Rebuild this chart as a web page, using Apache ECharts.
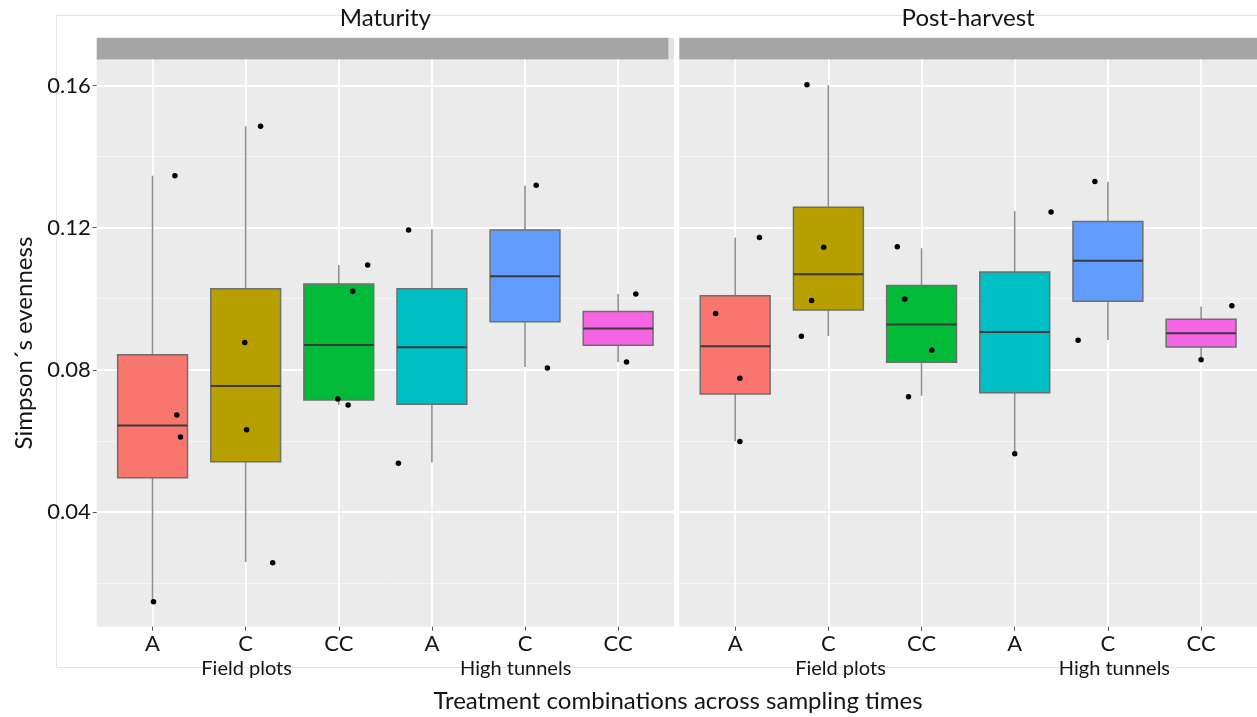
<!DOCTYPE html>
<html>
<head>
<meta charset="utf-8">
<script src="https://cdn.jsdelivr.net/npm/echarts@6/dist/echarts.min.js"></script>
<style>
  html, body { margin: 0; padding: 0; background: #ffffff; }
  #chart { width: 1257px; height: 717px; }
</style>
</head>
<body>
<div id="chart"></div>
<script>
// ---- data ----
const facets = ['Maturity', 'Post-harvest'];
const treatments = ['A', 'C', 'CC', 'A', 'C', 'CC'];
const sites = ['Field plots', 'High tunnels'];
const fillColors = ['#F8766D', '#B79F00', '#00BA38', '#00BFC4', '#619CFF', '#F564E3'];
const yMajorTicks = [0.04, 0.08, 0.12, 0.16];
const yMinorTicks = [0.02, 0.06, 0.10, 0.14];

// [lower whisker, Q1, median, Q3, upper whisker] for each treatment
const maturityStats = [
  [0.0148, 0.0496, 0.0643, 0.0842, 0.1346],
  [0.0259, 0.0541, 0.0754, 0.1028, 0.1485],
  [0.0701, 0.0715, 0.0870, 0.1041, 0.1095],
  [0.0539, 0.0703, 0.0863, 0.1028, 0.1195],
  [0.0808, 0.0935, 0.1063, 0.1193, 0.1318],
  [0.0822, 0.0869, 0.0916, 0.0964, 0.1013]
];
const postHarvestStats = [
  [0.0599, 0.0732, 0.0866, 0.1008, 0.1172],
  [0.0895, 0.0968, 0.1069, 0.1257, 0.1601],
  [0.0727, 0.0821, 0.0927, 0.1037, 0.1142],
  [0.0564, 0.0735, 0.0906, 0.1075, 0.1247],
  [0.0884, 0.0993, 0.1107, 0.1217, 0.1329],
  [0.0828, 0.0864, 0.0903, 0.0942, 0.0978]
];

// individual observations: [treatment index, jitter, evenness]
const maturityPoints = [
  [0, 0.24, 0.1346], [0, 0.26, 0.0673], [0, 0.30, 0.0611], [0, 0.01, 0.0147],
  [1, 0.16, 0.1485], [1, -0.01, 0.0877], [1, 0.01, 0.0631], [1, 0.29, 0.0257],
  [2, 0.31, 0.1095], [2, 0.15, 0.1021], [2, -0.01, 0.0718], [2, 0.10, 0.0701],
  [3, -0.25, 0.1193], [3, -0.36, 0.0537],
  [4, 0.12, 0.1319], [4, 0.24, 0.0805],
  [5, 0.19, 0.1013], [5, 0.09, 0.0822]
];
const postHarvestPoints = [
  [0, 0.26, 0.1172], [0, -0.21, 0.0958], [0, 0.05, 0.0776], [0, 0.05, 0.0598],
  [1, -0.23, 0.1602], [1, -0.05, 0.1145], [1, -0.18, 0.0995], [1, -0.29, 0.0894],
  [2, -0.26, 0.1146], [2, -0.18, 0.0999], [2, 0.11, 0.0855], [2, -0.14, 0.0724],
  [3, 0.39, 0.1244], [3, 0.00, 0.0564],
  [4, -0.14, 0.1330], [4, -0.32, 0.0883],
  [5, 0.33, 0.0980], [5, 0.00, 0.0828]
];

// ---- layout / style ----
const FONT = 'Lato';
const TEXT = '#141414';
const panelTop = 59.5;
const panelHeight = 567.2;
const panels = [
  { left: 96.7, width: 577.3 },
  { left: 679.3, width: 577.7 }
];
const yMin = 0.0077, yMax = 0.1673;
const catIdx = treatments.map((_, i) => i);

function renderBox(params, api) {
  const x = api.value(0);
  const lo = api.coord([x, api.value(1)]);
  const q1 = api.coord([x, api.value(2)]);
  const med = api.coord([x, api.value(3)]);
  const q3 = api.coord([x, api.value(4)]);
  const hi = api.coord([x, api.value(5)]);
  const half = api.size([0.75, 0])[0] / 2;
  const cx = lo[0];
  const whisker = { stroke: '#8f8f8f', lineWidth: 1.6 };
  return {
    type: 'group',
    children: [
      { type: 'line', shape: { x1: cx, y1: hi[1], x2: cx, y2: q3[1] }, style: whisker },
      { type: 'line', shape: { x1: cx, y1: q1[1], x2: cx, y2: lo[1] }, style: whisker },
      { type: 'rect', shape: { x: cx - half, y: q3[1], width: 2 * half, height: q1[1] - q3[1] },
        style: { fill: fillColors[x], stroke: '#6f6f6f', lineWidth: 1.5 } },
      { type: 'line', shape: { x1: cx - half, y1: med[1], x2: cx + half, y2: med[1] },
        style: { stroke: '#3a3a3a', lineWidth: 2 } }
    ]
  };
}

const grids = panels.map(p => ({
  left: p.left, top: panelTop, width: p.width, height: panelHeight,
  show: true, backgroundColor: '#ebebeb', borderWidth: 0
}));

const xAxes = [];
const yAxes = [];
panels.forEach((p, g) => {
  // treatment axis
  xAxes.push({
    type: 'value', gridIndex: g, position: 'bottom', min: -0.6, max: 5.6,
    axisLine: { show: false, onZero: false },
    axisTick: { show: true, length: 4, customValues: catIdx, lineStyle: { color: '#555', width: 1 } },
    axisLabel: { customValues: catIdx, formatter: v => treatments[Math.round(v)],
      margin: 6, fontFamily: FONT, fontSize: 22, color: TEXT },
    splitLine: { show: true, lineStyle: { color: '#ffffff', width: 1.8 } }
  });
  // growing-site group axis
  xAxes.push({
    type: 'value', gridIndex: g, position: 'bottom', min: -0.6, max: 5.6,
    axisLine: { show: false, onZero: false }, splitLine: { show: false },
    axisTick: { show: false, customValues: g === 0 ? [1.01, 3.9] : [1.13, 4.07] },
    axisLabel: { customValues: g === 0 ? [1.01, 3.9] : [1.13, 4.07],
      formatter: v => (v < 2.5 ? sites[0] : sites[1]),
      margin: 32, fontFamily: FONT, fontSize: 20, color: TEXT }
  });
  // major y
  yAxes.push({
    type: 'value', gridIndex: g, min: yMin, max: yMax,
    axisLine: { show: false, onZero: false },
    axisTick: { show: g === 0, length: 4, customValues: yMajorTicks, lineStyle: { color: '#555' } },
    axisLabel: { show: g === 0, customValues: yMajorTicks, formatter: v => v.toFixed(2),
      margin: 6, fontFamily: FONT, fontSize: 22, color: TEXT },
    splitLine: { show: true, lineStyle: { color: '#ffffff', width: 1.8 } },
    name: g === 0 ? 'Simpson\u00b4s evenness' : '',
    nameLocation: 'middle', nameGap: 60,
    nameTextStyle: { fontFamily: FONT, fontSize: 24, color: TEXT }
  });
  // minor y grid
  yAxes.push({
    type: 'value', gridIndex: g, min: yMin, max: yMax,
    axisLine: { show: false, onZero: false },
    axisTick: { show: false, customValues: yMinorTicks },
    axisLabel: { show: false, customValues: yMinorTicks },
    splitLine: { show: true, lineStyle: { color: '#f6f6f6', width: 1 } }
  });
});

const series = [];
[maturityStats, postHarvestStats].forEach((stats, g) => {
  series.push({
    type: 'custom', xAxisIndex: 2 * g, yAxisIndex: 2 * g, z: 2,
    renderItem: renderBox,
    encode: { x: 0, y: [1, 2, 3, 4, 5] },
    data: stats.map((s, i) => [i].concat(s)),
    silent: true
  });
});
[maturityPoints, postHarvestPoints].forEach((pts, g) => {
  series.push({
    type: 'scatter', xAxisIndex: 2 * g, yAxisIndex: 2 * g, z: 5,
    symbol: 'circle', symbolSize: 5.5,
    itemStyle: { color: '#000000', opacity: 1 },
    data: pts.map(p => [p[0] + p[1], p[2]]),
    silent: true
  });
});

const stripTop = 37.7, stripH = 21.8;
const graphic = [
  // faint outer frame
  { type: 'rect', left: 54, top: 13, shape: { width: 1210, height: 652 },
    style: { fill: 'none', stroke: '#e4e4e4', lineWidth: 1 }, z: -10 },
  // facet strips
  { type: 'rect', shape: { x: 96.7, y: stripTop, width: 572, height: stripH }, style: { fill: '#a6a6a6' } },
  { type: 'rect', shape: { x: 668.7, y: stripTop, width: 5.3, height: stripH }, style: { fill: '#e3e3e3' } },
  { type: 'rect', shape: { x: 679.3, y: stripTop, width: 577.7, height: stripH }, style: { fill: '#a6a6a6' } },
  { type: 'text', x: 96.7 + 577.3 / 2, y: 18,
    style: { text: facets[0], font: '24px ' + FONT, fill: TEXT, textAlign: 'center', textVerticalAlign: 'middle' } },
  { type: 'text', x: 679.3 + 577.7 / 2, y: 18,
    style: { text: facets[1], font: '24px ' + FONT, fill: TEXT, textAlign: 'center', textVerticalAlign: 'middle' } },
  // x axis title
  { type: 'text', x: 678, y: 701,
    style: { text: 'Treatment combinations across sampling times', font: '24px ' + FONT, fill: TEXT,
      textAlign: 'center', textVerticalAlign: 'middle' } }
];

const chart = echarts.init(document.getElementById('chart'), null, { renderer: 'canvas' });
chart.setOption({
  animation: false,
  backgroundColor: '#ffffff',
  grid: grids,
  xAxis: xAxes,
  yAxis: yAxes,
  series: series,
  graphic: graphic
});
</script>
</body>
</html>
